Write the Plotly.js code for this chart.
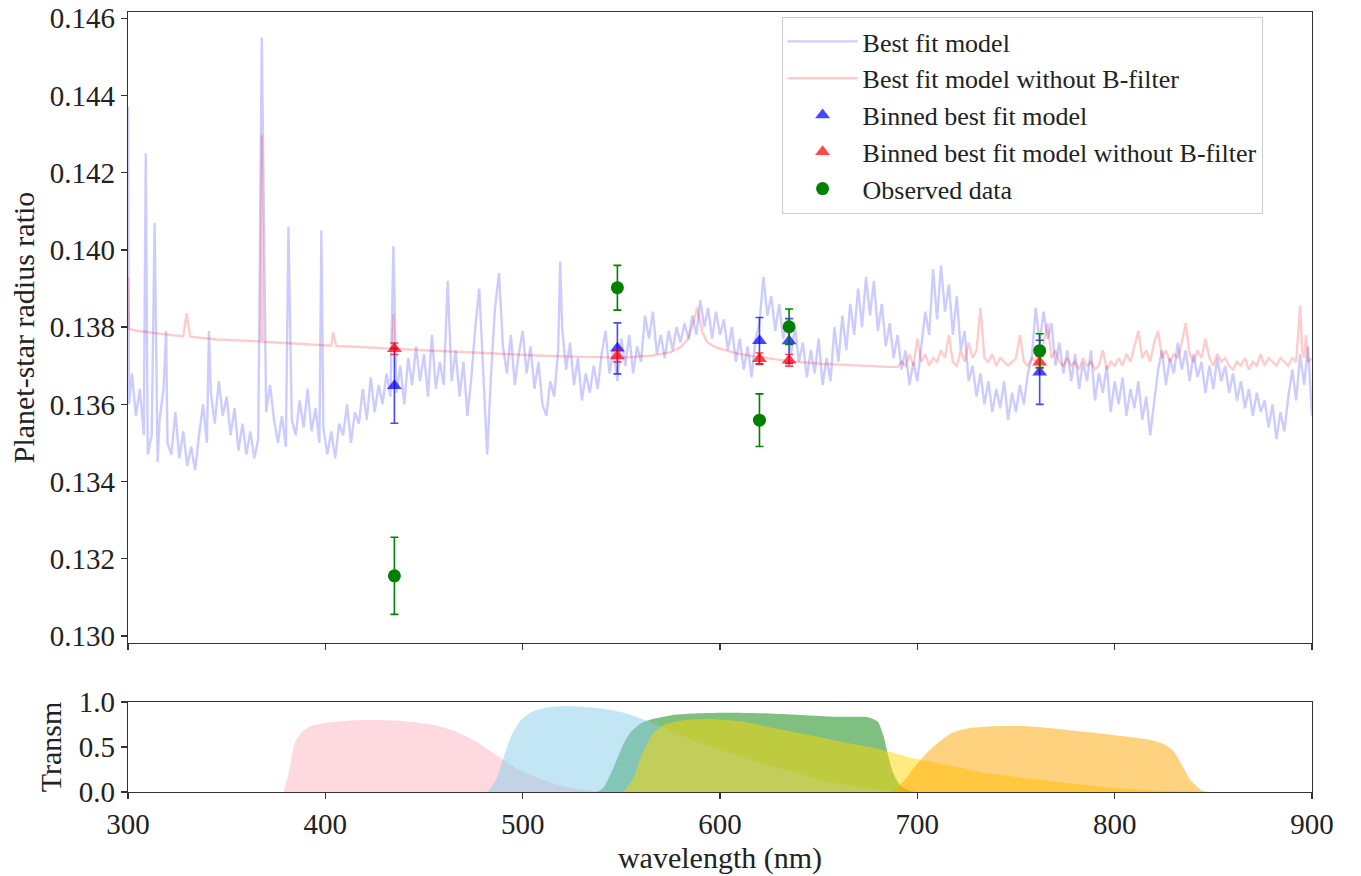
<!DOCTYPE html>
<html>
<head>
<meta charset="utf-8">
<script src="https://cdn.plot.ly/plotly-3.0.1.min.js"></script>
<style>html,body{margin:0;padding:0;background:#fff;}#chart{width:1361px;height:876px;}</style>
</head>
<body>
<div id="chart"></div>
<script>
// ---- Best fit model spectrum (blue) ----
const specX = [
300,300.5,302,304,306,308,309,310,312,313.5,
315,316,318,319.3,320,322,324,326,328,330,
332,334,336,338,340,341,342,344,346,348,
350,352,354,356,358,360,362,364,366,367.8,
370,372,374,376,378,380,381.3,383,385,387,
389,391,393,395,397,398,399,401,403,405,
407,409,411,413,415,417,419,421,423,425,
427,429,431,433,434.5,436,438,440,442,444,
446,448,450,452,454,456,458,460,462,464,
466,468,470,472,474,476,478,480,482,484,
486,488,490,492,494,496,498,500,502,504,
506,508,510,512,514,516,518,519,520,522,
524,526,528,530,532,534,536,538,540,542,
544,546,548,550,552,554,556,558,560,562,
564,566,568,570,572,574,576,578,580,582,
584,586,588,590,592,594,596,598,600,602,
604,606,608,610,612,614,616,618,620,622,
624,626,628,630,632,634,636,638,640,642,
644,646,648,650,652,654,656,658,660,662,
664,666,668,670,672,674,676,678,680,682,
684,686,688,690,692,694,696,698,700,702,
704,706,708,710,712,714,716,718,720,722,
724,726,728,730,732,734,736,738,740,742,
744,746,748,750,752,754,756,758,760,762,
764,766,768,770,772,774,776,778,780,782,
784,786,788,790,792,794,796,798,800,802,
804,806,808,810,812,814,816,818,820,822,
824,826,828,830,832,834,836,838,840,842,
844,846,848,850,852,854,856,858,860,862,
864,866,868,870,872,874,876,878,880,882,
884,886,888,890,892,894,896,898,900
];
const specY = [
0.1437,0.1360,0.1368,0.1357,0.1364,0.1352,0.1425,0.1347,0.1352,0.1407,
0.1345,0.1356,0.1364,0.1379,0.1350,0.1347,0.1358,0.1346,0.1353,0.1344,
0.1349,0.1343,0.1352,0.1360,0.1350,0.1379,0.1363,0.1355,0.1366,0.1357,
0.1362,0.1352,0.1359,0.1348,0.1355,0.1347,0.1353,0.1346,0.1351,0.1455,
0.1358,0.1365,0.1356,0.1350,0.1357,0.1349,0.1406,0.1356,0.1352,0.1361,
0.1354,0.1364,0.1353,0.1359,0.1350,0.1405,0.1354,0.1347,0.1353,0.1346,
0.1355,0.1352,0.1360,0.1350,0.1358,0.1355,0.1364,0.1356,0.1367,0.1358,
0.1365,0.1360,0.1368,0.1362,0.1401,0.1363,0.1370,0.1360,0.1372,0.1365,
0.1375,0.1366,0.1373,0.1362,0.1378,0.1364,0.1371,0.1365,0.1392,0.1366,
0.1374,0.1362,0.1371,0.1357,0.1367,0.1380,0.1390,0.1370,0.1347,0.1368,
0.1385,0.1394,0.1375,0.1368,0.1378,0.1365,0.1373,0.1379,0.1368,0.1375,
0.1364,0.1371,0.1360,0.1357,0.1366,0.1362,0.1374,0.1397,0.1380,0.1369,
0.1376,0.1365,0.1372,0.1361,0.1368,0.1363,0.1370,0.1364,0.1373,0.1379,
0.1368,0.1374,0.1366,0.1377,0.1370,0.1378,0.1368,0.1375,0.1371,0.1383,
0.1377,0.1384,0.1373,0.1378,0.1372,0.1379,0.1374,0.1380,0.1376,0.1381,
0.1377,0.1383,0.1378,0.1387,0.1380,0.1385,0.1377,0.1384,0.1378,0.1382,
0.1374,0.1380,0.1371,0.1377,0.1369,0.1375,0.1367,0.1377,0.1381,0.1393,
0.1383,0.1388,0.1379,0.1386,0.1377,0.1382,0.1373,0.1380,0.1371,0.1376,
0.1367,0.1374,0.1368,0.1377,0.1365,0.1372,0.1366,0.1380,0.1371,0.1383,
0.1374,0.1386,0.1378,0.1390,0.1380,0.1393,0.1383,0.1392,0.1379,0.1386,
0.1375,0.1381,0.1372,0.1378,0.1369,0.1374,0.1365,0.1371,0.1366,0.1375,
0.1384,0.1378,0.1395,0.1382,0.1396,0.1384,0.1391,0.1378,0.1388,0.1374,
0.1379,0.1366,0.1370,0.1362,0.1368,0.1360,0.1366,0.1358,0.1364,0.1359,
0.1366,0.1356,0.1363,0.1358,0.1365,0.1360,0.1368,0.1372,0.1385,0.1376,
0.1384,0.1377,0.1381,0.1370,0.1376,0.1368,0.1374,0.1366,0.1373,0.1364,
0.1371,0.1366,0.1374,0.1361,0.1368,0.1363,0.1370,0.1358,0.1366,0.1360,
0.1367,0.1357,0.1364,0.1359,0.1366,0.1356,0.1362,0.1352,0.1361,0.1369,
0.1374,0.1365,0.1372,0.1368,0.1376,0.1369,0.1374,0.1366,0.1373,0.1367,
0.1371,0.1363,0.1370,0.1364,0.1372,0.1366,0.1370,0.1363,0.1368,0.1361,
0.1366,0.1359,0.1364,0.1357,0.1363,0.1358,0.1361,0.1354,0.1360,0.1351,
0.1358,0.1353,0.1362,0.1369,0.1361,0.1373,0.1365,0.1375,0.1357
];

// ---- Best fit model without B-filter (red) ----
const redX = [
300,300.5,305,310,320,325,328,329.7,331.5,335,
340,345,350,360,367.3,367.8,368.3,375,385,395,
403,404,405.5,415,425,434,434.5,435,450,470,
490,510,530,550,565,575,580,584,586.5,588.4,
590,591,593.5,597,600,610,620,635,651,670,
685,690,692,694,696,698,700,702,704,706,
708,710,712,714,716,718,720,722,724,726,
728,730,732,734,736,738,740,742,744,746,
748,750,752,754,756,758,760,762,764,766,
768,770,772,774,776,778,780,782,784,786,
788,790,792,794,796,798,800,802,804,806,
808,810,812,814,816,818,820,822,824,826,
828,830,832,834,836,838,840,842,844,846,
848,850,852,854,856,858,860,862,864,866,
868,870,872,874,876,878,880,882,884,886,
888,890,892,894,895,896,897,898,900
];
const redY = [
0.1393,0.13795,0.13790,0.13787,0.13782,0.13778,0.13776,0.13836,0.13775,0.13773,
0.13770,0.13768,0.13767,0.13765,0.13763,0.14297,0.13762,0.13760,0.13757,0.13754,
0.13752,0.13787,0.13751,0.13749,0.13746,0.13744,0.13834,0.13744,0.13740,0.13735,
0.13730,0.13726,0.13723,0.13721,0.13726,0.13735,0.13748,0.13770,0.13812,0.13851,
0.13810,0.13787,0.13761,0.13750,0.13744,0.13730,0.13722,0.13712,0.13705,0.13700,
0.13697,0.13697,0.1371,0.1370,0.1373,0.1370,0.1377,0.1371,0.1373,0.1370,
0.1372,0.1371,0.1374,0.1372,0.1378,0.1371,0.1370,0.1374,0.1371,0.1376,
0.1372,0.1374,0.1385,0.1372,0.1371,0.1373,0.1370,0.1372,0.1371,0.1370,
0.1371,0.1372,0.1378,0.1371,0.1370,0.1372,0.1371,0.1373,0.1376,0.1381,
0.1372,0.1374,0.1371,0.1370,0.1372,0.1370,0.1371,0.1369,0.1372,0.1370,
0.1371,0.1369,0.1370,0.1374,0.1369,0.1371,0.1370,0.1372,0.1370,0.1373,
0.1371,0.1375,0.1379,0.1372,0.1374,0.1371,0.1376,0.1379,0.1372,0.1374,
0.1371,0.1373,0.1372,0.1376,0.1381,0.1373,0.1371,0.1374,0.1372,0.1377,
0.1372,0.1370,0.1373,0.1371,0.1372,0.1370,0.1369,0.1371,0.1370,0.1372,
0.1369,0.1371,0.1370,0.1373,0.1370,0.1372,0.1371,0.1370,0.1372,0.1371,
0.1370,0.1372,0.1371,0.13855,0.1374,0.1372,0.1378,0.1371,0.1372
];

// ---- Binned points ----
const binX = [435, 548, 620, 635, 762];
const binBlue = [0.13648, 0.13745, 0.13765, 0.13764, 0.13683];
const binBlueErr = [0.00097, 0.00066, 0.00060, 0.00058, 0.00083];
const binRed = [0.13744, 0.13725, 0.13718, 0.13714, 0.13709];
const binRedErr = [0.00015, 0.00015, 0.00015, 0.00015, 0.00015];
const obsY = [0.13156, 0.13902, 0.13559, 0.13801, 0.13739];
const obsErr = [0.00100, 0.00058, 0.00068, 0.00046, 0.00044];

// ---- Filter transmission curves ----
const pinkX = [378.8,380.8,382.4,384.4,387.4,392.4,400.4,418.4,438.4,456.4,466.4,476.4,486.4,496.4,506.4,516.4,526.4,536.4,542];
const pinkY = [0,0.15,0.32,0.54,0.65,0.73,0.77,0.80,0.79,0.74,0.67,0.56,0.41,0.27,0.17,0.09,0.04,0.01,0];
const greenX = [537.7,541,546,551,554.6,559.7,566,578,590,604,620,637,654,667,675,680,683,685.5,688,691.5,696.6,700];
const greenY = [0,0.05,0.27,0.53,0.66,0.76,0.81,0.86,0.875,0.88,0.875,0.86,0.84,0.835,0.83,0.78,0.61,0.38,0.2,0.07,0.01,0];
const skyX = [482,486.4,490.4,494.4,498.4,504.4,512.4,522.4,536,545,553,562,570,578,587,604,620,637,654,671,688,695];
const skyY = [0,0.13,0.39,0.63,0.78,0.89,0.94,0.955,0.935,0.91,0.87,0.80,0.73,0.65,0.57,0.44,0.33,0.22,0.12,0.05,0.01,0];
const goldX = [551,556,559.7,563,566,573,583,595,612,629,646,663,680,697,722,735,756,776,797,818,840,850];
const goldY = [0,0.15,0.38,0.53,0.65,0.76,0.80,0.81,0.78,0.70,0.63,0.55,0.48,0.38,0.27,0.21,0.15,0.10,0.05,0.02,0.005,0];
const orangeX = [687,693.6,697.5,701.9,706,710,718,726.7,739,755.7,776,797,817.8,826,830,834.5,838.5,844.7,848];
const orangeY = [0,0.13,0.25,0.36,0.46,0.54,0.66,0.71,0.73,0.73,0.69,0.64,0.58,0.52,0.45,0.28,0.13,0.01,0];

const yTicks = [0.130,0.132,0.134,0.136,0.138,0.140,0.142,0.144,0.146];
const yTickText = ['0.130','0.132','0.134','0.136','0.138','0.140','0.142','0.144','0.146'];
const tTicks = [0, 0.5, 1.0];
const tTickText = ['0.0','0.5','1.0'];

function filt(x, y, color) {
  return {x: x, y: y, xaxis: 'x2', yaxis: 'y2', type: 'scatter', mode: 'lines',
    fill: 'tozeroy', fillcolor: color, line: {width: 0, shape: 'spline', smoothing: 0.6, color: color},
    showlegend: false, hoverinfo: 'skip'};
}

const traces = [
  {x: specX, y: specY, type: 'scatter', mode: 'lines', name: 'Best fit model',
   line: {color: 'rgba(0,0,255,0.2)', width: 2.4}},
  {x: redX, y: redY, type: 'scatter', mode: 'lines', name: 'Best fit model without B-filter',
   line: {color: 'rgba(255,0,0,0.2)', width: 2.4}},
  {x: binX, y: binBlue, type: 'scatter', mode: 'markers', name: 'Binned best fit model',
   marker: {symbol: 'triangle-up', size: 13, color: 'rgba(0,0,255,0.72)'},
   error_y: {type: 'data', array: binBlueErr, visible: true, color: 'rgba(0,0,255,0.72)', thickness: 1.6, width: 4}},
  {x: binX, y: binRed, type: 'scatter', mode: 'markers', name: 'Binned best fit model without B-filter',
   marker: {symbol: 'triangle-up', size: 13, color: 'rgba(255,0,0,0.72)'},
   error_y: {type: 'data', array: binRedErr, visible: true, color: 'rgba(255,0,0,0.72)', thickness: 1.6, width: 4}},
  {x: binX, y: obsY, type: 'scatter', mode: 'markers', name: 'Observed data',
   marker: {symbol: 'circle', size: 13, color: 'green'},
   error_y: {type: 'data', array: obsErr, visible: true, color: 'green', thickness: 1.6, width: 4}},
  filt(pinkX, pinkY, 'rgba(255,192,203,0.6)'),
  filt(greenX, greenY, 'rgba(0,128,0,0.5)'),
  filt(skyX, skyY, 'rgba(135,206,235,0.5)'),
  filt(goldX, goldY, 'rgba(255,215,0,0.5)'),
  filt(orangeX, orangeY, 'rgba(255,165,0,0.5)')
];

const SERIF = 'Liberation Serif, DejaVu Serif, Times New Roman, serif';

const axCommon = {showline: true, mirror: true, linecolor: '#333', linewidth: 1.3,
  ticks: 'outside', ticklen: 6, tickwidth: 1.3, tickcolor: '#333',
  showgrid: false, zeroline: false, ticklabeloverflow: 'allow',
  tickfont: {family: SERIF, size: 29, color: '#222'}};

const layout = {
  width: 1361, height: 876,
  margin: {l: 128, r: 49, t: 12, b: 84},
  paper_bgcolor: 'white', plot_bgcolor: 'white',
  font: {family: SERIF, size: 30, color: '#222'},
  showlegend: true,
  legend: {x: 0.552, y: 0.9936, xanchor: 'left', yanchor: 'top', bgcolor: 'white',
    bordercolor: '#cccccc', borderwidth: 1, itemwidth: 70,
    font: {family: SERIF, size: 26, color: '#222'}, tracegroupgap: 0},
  xaxis: Object.assign({}, axCommon, {domain: [0, 1], range: [300, 900], anchor: 'y',
    tick0: 300, dtick: 100, showticklabels: false}),
  yaxis: Object.assign({}, axCommon, {domain: [0.19103, 1], range: [0.12982, 0.14616], anchor: 'x',
    tickvals: yTicks, ticktext: yTickText,
    title: {text: 'Planet-star radius ratio', font: {family: SERIF, size: 30, color: '#222'}, standoff: 6}}),
  xaxis2: Object.assign({}, axCommon, {domain: [0, 1], range: [300, 900], anchor: 'y2',
    tick0: 300, dtick: 100,
    title: {text: 'wavelength (nm)', font: {family: SERIF, size: 30, color: '#222'}, standoff: 8}}),
  yaxis2: Object.assign({}, axCommon, {domain: [0, 0.11538], range: [0, 1], anchor: 'x2',
    tickvals: tTicks, ticktext: tTickText,
    title: {text: 'Transm', font: {family: SERIF, size: 30, color: '#222'}, standoff: 8}})
};

Plotly.newPlot('chart', traces, layout, {displayModeBar: false, staticPlot: true});
</script>
</body>
</html>
